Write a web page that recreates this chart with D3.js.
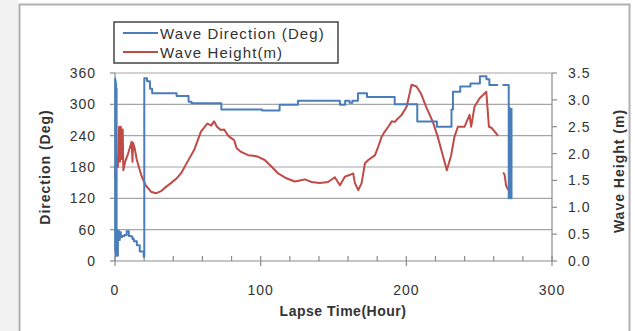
<!DOCTYPE html>
<meta charset="utf-8">
<style>
body { margin: 0; background: #fff; }
svg text { font-family: "Liberation Sans", Arial, sans-serif; fill: #333; }
.grid line { stroke: #a6a6a6; stroke-width: 1.2; }
.ax { stroke: #8c8c8c; stroke-width: 1.2; fill: none; }
</style>
<svg width="635" height="331"></svg>
<script src="https://d3js.org/d3.v7.min.js"></script>
<script>

// direcao (graus): hora em que cada patamar comeca
var dirHora = [0,0.15,0.3,0.45,0.6,0.75,0.9,1.1,1.4,2,2.6,3.3,4,5,6.5,8,9.5,11,12,13,15,17,19.7,20.1,
  22,24,25.5,42.3,50.5,52.5,73,101,113,125.6,154.4,158,161,163,166.8,173,192,
  207.5,221,231,232,237,244,250.5,255,257,263,
  null,
  266,270.3,270.6,271,271.3,271.7,272.2];
var dirValor = [350,20,345,15,340,10,330,12,10,58,40,55,46,48,50,57,48,47,42,38,30,18,8,350,
  344,330,321,316,305,302,290,288,299,307,299,307,303,307,321,314,300,
  267,257,290,324,334,340,354,348,337,337,
  null,
  337,120,293,125,290,120,293];

// altura (m)
var altHora = [0,1,2,2.8,3.4,4,4.6,5.3,5.7,7,9,11.4,12,12.4,13.5,15,18,21,24.7,28,31.6,35,38.4,42,45.3,49.8,54.4,59,63.5,66,68,70,72.6,75,77.2,79,81.8,83.5,86.6,91.4,95,98.3,102.8,107.4,112,117.7,123.4,127,130.3,134.9,140.6,146.3,150.9,154.4,157.8,161,163.5,164.7,167,169.3,171.6,173.9,178.5,181,183,185,187.6,190,192.2,194,196.8,200.2,203.6,207,210,213.6,218.2,221.6,225,227.8,230.8,233,235.4,238,240,243.4,244.5,246.8,250.3,253.7,254.9,256.7,258.4,260.7,263,
  null,
  266.5,267.5,268.5,270];
var altValor = [1.55,1.95,1.75,2.5,1.85,2.5,1.9,2.45,1.69,1.85,2.0,2.22,1.85,2.2,2.1,1.88,1.6,1.41,1.29,1.26,1.3,1.38,1.45,1.53,1.63,1.85,2.07,2.41,2.56,2.52,2.6,2.5,2.44,2.45,2.35,2.3,2.25,2.1,2.03,1.97,1.96,1.94,1.88,1.76,1.63,1.54,1.48,1.5,1.52,1.47,1.45,1.47,1.56,1.41,1.57,1.6,1.63,1.45,1.32,1.45,1.82,1.88,1.97,2.15,2.31,2.4,2.5,2.6,2.59,2.65,2.72,2.87,3.28,3.25,3.12,2.87,2.59,2.31,1.97,1.69,1.97,2.31,2.5,2.5,2.5,2.72,2.5,2.87,3.03,3.12,3.15,2.5,2.48,2.41,2.33,
  null,
  1.65,1.6,1.4,1.32];

var dirTicks = [0, 60, 120, 180, 240, 300, 360];
var altTicks = [0, 0.5, 1, 1.5, 2, 2.5, 3, 3.5];
var horaTicks = [0, 100, 200, 300];

var svg = d3.select("svg");

// fundo e moldura
svg.append("rect").attr("x", 0).attr("y", 0).attr("width", 18).attr("height", 331).attr("fill", "#f2f2f2");
svg.append("rect").attr("x", 19.5).attr("y", 4.5).attr("width", 610).attr("height", 340)
  .attr("fill", "#fff").attr("stroke", "#b0b0b0").attr("stroke-width", 2);

var x = d3.scaleLinear().domain([0, 300]).range([115, 552]);
var yDir = d3.scaleLinear().domain([0, 360]).range([261, 73]);
var yAlt = d3.scaleLinear().domain([0, 3.5]).range([261, 73]);

// grade
svg.append("g").attr("class", "grid").selectAll("line")
  .data(dirTicks.slice(1)).enter().append("line")
  .attr("x1", x(0)).attr("x2", x(300))
  .attr("y1", d => yDir(d)).attr("y2", d => yDir(d));

// eixo x
svg.append("line").attr("class", "ax").attr("x1", x(0)).attr("x2", x(300)).attr("y1", yDir(0)).attr("y2", yDir(0));
svg.append("g").selectAll("line").data(d3.range(0, 301, 20)).enter().append("line")
  .attr("class", "ax")
  .attr("x1", d => x(d)).attr("x2", d => x(d))
  .attr("y1", d => d % 100 == 0 ? yDir(0) + 5 : yDir(0))
  .attr("y2", yDir(0) - 5);
svg.append("g").selectAll("text").data(horaTicks).enter().append("text")
  .attr("x", d => x(d)).attr("y", 295).attr("text-anchor", "middle")
  .attr("font-size", 14).attr("letter-spacing", 1).text(d => d);

// eixo esquerdo
svg.append("line").attr("class", "ax").attr("x1", x(0)).attr("x2", x(0)).attr("y1", yDir(0)).attr("y2", yDir(360));
svg.append("g").selectAll("line").data(dirTicks).enter().append("line")
  .attr("class", "ax").attr("x1", x(0) - 5).attr("x2", x(0))
  .attr("y1", d => yDir(d)).attr("y2", d => yDir(d));
svg.append("g").selectAll("text").data(dirTicks).enter().append("text")
  .attr("x", 96).attr("y", d => yDir(d) + 5).attr("text-anchor", "end")
  .attr("font-size", 14).attr("letter-spacing", 1).text(d => d);

// eixo direito
svg.append("line").attr("class", "ax").attr("x1", x(300)).attr("x2", x(300)).attr("y1", yAlt(0)).attr("y2", yAlt(3.5));
svg.append("g").selectAll("line").data(altTicks).enter().append("line")
  .attr("class", "ax").attr("x1", x(300)).attr("x2", x(300) + 5)
  .attr("y1", d => yAlt(d)).attr("y2", d => yAlt(d));
svg.append("g").selectAll("text").data(altTicks).enter().append("text")
  .attr("x", 568).attr("y", d => yAlt(d) + 5)
  .attr("font-size", 14).attr("letter-spacing", 1).text(d => d.toFixed(1));

// titulos
svg.append("text").attr("x", 343).attr("y", 316).attr("text-anchor", "middle")
  .attr("font-size", 14).attr("font-weight", "bold").attr("letter-spacing", 0.5).text("Lapse Time(Hour)");
svg.append("text").attr("transform", "translate(50,167) rotate(-90)").attr("text-anchor", "middle")
  .attr("font-size", 14).attr("font-weight", "bold").attr("letter-spacing", 1).text("Direction (Deg)");
svg.append("text").attr("transform", "translate(624,171) rotate(-90)").attr("text-anchor", "middle")
  .attr("font-size", 14).attr("font-weight", "bold").attr("letter-spacing", 1).text("Wave Height (m)");

// linhas
var dirDados = dirHora.map((h, i) => [h, dirValor[i]]);
var altDados = altHora.map((h, i) => [h, altValor[i]]);

var linhaDir = d3.line().defined(d => d[0] !== null).curve(d3.curveStepAfter)
  .x(d => x(d[0])).y(d => yDir(d[1]));
var linhaAlt = d3.line().defined(d => d[0] !== null).x(d => x(d[0])).y(d => yAlt(d[1]));

svg.append("path").datum(altDados).attr("d", linhaAlt)
  .attr("fill", "none").attr("stroke", "#be4b48").attr("stroke-width", 2).attr("stroke-linejoin", "round");
svg.append("path").datum(dirDados).attr("d", linhaDir)
  .attr("fill", "none").attr("stroke", "#4a7ebb").attr("stroke-width", 2).attr("stroke-linejoin", "round");

// legenda
var leg = svg.append("g");
leg.append("rect").attr("x", 114).attr("y", 22).attr("width", 224).attr("height", 41)
  .attr("fill", "#fff").attr("stroke", "#444").attr("stroke-width", 1.5);
var series = [["Wave Direction (Deg)", "#4a7ebb"], ["Wave Height(m)", "#be4b48"]];
series.forEach(function(s, i) {
  leg.append("line").attr("x1", 123).attr("x2", 158).attr("y1", 33 + i * 19).attr("y2", 33 + i * 19)
    .attr("stroke", s[1]).attr("stroke-width", 2);
  leg.append("text").attr("x", 160).attr("y", 38.5 + i * 19).attr("font-size", 15).attr("letter-spacing", 1.1).text(s[0]);
});

</script>
